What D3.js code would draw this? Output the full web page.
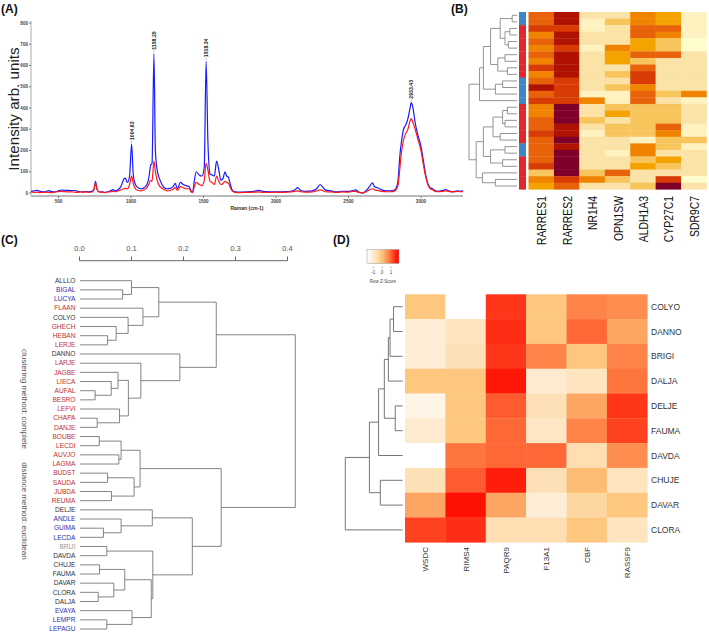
<!DOCTYPE html>
<html><head><meta charset="utf-8">
<script src="https://cdn.jsdelivr.net/npm/d3@7"></script>
<style>body{margin:0;background:#fff}svg{display:block;font-family:"Liberation Sans",Arial,sans-serif}</style>
</head><body><svg id="c" width="709" height="634"></svg>
<script>
// ---------- Panel A data ----------
const ramanShift = [310,330,350,370,390,410,430,450,470,490,510,530,550,570,590,610,630,650,670,690,710,730,745,755,765,780,800,820,840,860,875,890,910,930,950,960,975,990,1004,1015,1030,1050,1070,1090,1110,1125,1135,1145,1158,1168,1180,1195,1210,1230,1250,1270,1290,1305,1320,1340,1360,1380,1400,1415,1425,1435,1450,1470,1490,1505,1518,1530,1545,1560,1575,1590,1605,1620,1635,1648,1660,1672,1685,1700,1720,1750,1800,1850,1880,1910,1950,2000,2050,2100,2130,2150,2170,2200,2250,2280,2305,2320,2340,2380,2420,2460,2500,2530,2550,2570,2600,2620,2645,2665,2680,2700,2730,2760,2790,2820,2840,2855,2865,2880,2895,2910,2925,2933,2945,2960,2980,3000,3015,3030,3050,3065,3080,3100,3120,3150,3170,3190,3220,3250,3270,3290];
const blueIntensity = [8,10,12,9,5,6,11,7,5,8,13,14,12,12,11,13,8,6,5,7,6,8,20,55,20,6,5,3,6,10,16,10,15,30,65,70,50,80,230,90,40,25,20,25,40,80,130,140,655,200,110,70,45,25,20,22,30,45,20,50,40,35,30,10,5,50,100,85,80,120,620,250,90,85,80,150,110,60,70,100,80,75,40,12,5,4,5,8,12,8,6,5,6,8,15,25,12,8,10,20,40,30,15,10,5,8,8,12,15,5,0,10,30,48,30,25,15,10,10,15,50,180,240,300,320,350,400,425,400,330,270,220,160,95,40,25,20,10,8,12,16,10,6,10,8,10];
const redIntensity = [5,3,4,2,3,4,3,2,4,6,8,7,6,5,6,4,3,5,4,5,3,5,18,48,18,4,4,2,5,6,8,6,10,15,20,22,20,40,80,45,20,12,10,15,25,45,60,55,150,100,60,35,25,15,10,12,18,25,12,30,25,20,20,5,2,25,50,40,35,60,140,110,55,50,40,80,55,40,45,55,50,45,25,8,3,2,3,4,5,3,3,4,3,5,8,10,6,4,5,10,15,12,6,5,3,5,4,8,8,3,2,5,15,20,15,12,8,6,6,10,30,120,190,250,280,300,340,350,330,300,250,200,140,85,35,20,15,8,6,8,10,8,5,8,6,7];
const peakLabels = ["1004.63","1158.25","1518.34","2933.43"];
const peakShift = [1004,1158,1518,2933];
const peakHeight = [230,655,620,425];
const yTicksA = [0,100,200,300,400,500,600,700,800];
const xTicksA = [500,1000,1500,2000,2500,3000];

// ---------- Panel B data ----------
const genesB = ["RARRES1","RARRES2","NR1H4","OPN1SW","ALDH1A3","CYP27C1","SDR9C7"];
const levelsRARRES1 = [6,6,7,5,6,5,6,5,7,5,6,8,6,7,5,5,6,6,7,6,6,6,6,7,3,5,4];
const levelsRARRES2 = [8,8,7,8,8,7,8,8,8,8,7,7,7,7,9,9,9,8,8,9,8,9,9,9,9,7,6];
const levelsNR1H4   = [2,1,1,2,2,1,2,2,2,2,2,2,1,5,2,2,3,2,1,2,2,2,2,2,3,5,2];
const levelsOPN1SW  = [2,3,2,2,2,5,4,4,2,3,2,3,1,1,3,4,2,3,3,2,2,1,2,2,6,3,2];
const levelsALDH1A3 = [5,5,6,6,4,4,6,3,6,7,7,5,6,6,3,3,3,3,3,1,5,5,3,4,2,2,3];
const levelsCYP27C1 = [4,4,6,5,3,3,6,2,2,2,2,2,3,2,3,3,3,6,5,3,3,2,4,3,2,7,9];
const levelsSDR9C7  = [1,1,1,1,0,0,2,2,2,2,2,2,5,1,2,2,2,1,1,3,1,2,2,2,2,0,2];
const sampleGroupB = ["b","b","r","r","r","r","r","r","r","r","b","b","b","b","r","r","r","r","r","r","b","b","r","r","r","r","r"];
const heatPaletteB = ["#FFFDCC","#FEF2C0","#FBE2A6","#F8C55C","#F5A300","#F08300","#E8620A","#D83C04","#B01200","#7E0028"];
const treeB = [1.0,
  [0.78,[0.70,[0.55,[0.35,[0.1,0,1],[0.25,[0.15,2,3],[0.18,4,5]]],[0.4,[0.25,6,7],[0.2,8,9]]],[0.45,[0.3,10,11],12]],13],
  [0.85,[0.7,[0.5,[0.3,[0.2,14,15],[0.25,16,17]],[0.35,18,19]],[0.55,[0.25,20,21],[0.3,22,23]]],[0.72,24,[0.45,25,26]]]];

// ---------- Panel C data ----------
const samplesC = ["ALLLO","BIGAL","LUCYA","FLAAN","COLYO","GHECH","HEBAN","LERJE","DANNO","LARJE","JAGBE","LIECA","AUFAL","BESRO","LEFVI","CHAPA","DANJE","BOUBE","LECDI","AUVJO","LAGMA","BUDST","SAUDA","JUBDA","REUMA","DELJE","ANDLE","GUIMA","LECDA","BRIJI","DAVDA","CHUJE","FAUMA","DAVAR","CLORA","DALJA","EVAYA","LEMPR","LEPAGU"];
const groupC = ["k","b","b","r","k","r","r","r","k","r","r","r","r","r","r","r","r","r","r","r","r","r","r","r","r","k","b","b","b","g","k","k","k","k","k","k","b","b","b"];
const ticksC = [0.0,0.1,0.2,0.3,0.4];
const treeC = [0.415,
  [0.263,
    [0.1525,[0.10,0,[0.083,1,2]],[0.122,3,[0.0935,4,[0.0705,5,[0.054,6,7]]]]],
    [0.193,8,[0.118,9,[0.094,[0.074,10,[0.061,11,[0.030,12,13]]],[0.077,14,[0.034,15,16]]]]]],
  [0.2725,
    [0.1165,[0.080,[0.038,17,18],[0.0757,19,20]],[0.105,[0.054,21,22],[0.0615,23,24]]],
    [0.217,[0.140,25,[0.080,26,[0.046,27,28]]],
      [0.141,[0.0525,29,30],[0.138,[0.087,[0.0385,31,32],[0.066,33,[0.036,34,35]]],[0.101,36,[0.0525,37,38]]]]]]];

// ---------- Panel D data ----------
const samplesD = ["COLYO","DANNO","BRIGI","DALJA","DELJE","FAUMA","DAVDA","CHUJE","DAVAR","CLORA"];
const genesD = ["WSDC","RIMS4","PAQR9","F13A1","CBF","RASSF9"];
const zWSDC   = [-0.05,-1.1,-1.1,-0.05,-1.3,-0.95,-1.7,-0.65,0.35,1.25];
const zRIMS4  = [-1.7,-0.75,-0.65,-0.05,-0.05,-0.05,0.85,1.05,1.65,1.42];
const zPAQR9  = [1.35,1.42,1.35,1.6,1.05,0.95,0.95,1.55,0.35,-0.6];
const zF13A1  = [-0.05,-0.05,0.7,-0.95,-0.65,-0.8,0.95,-0.65,-1.1,-0.6];
const zCBF    = [0.7,0.95,-0.05,-0.75,0.35,0.7,-0.6,0.1,-0.4,-0.05];
const zRASSF9 = [0.6,0.35,0.7,0.85,1.35,1.25,0.6,-0.75,-0.05,-0.75];
const keyTicksD = [-1,0,1];
const treeD = [1.0,[0.58,[0.42,[0.32,[0.25,[0.22,[0.16,0,1],2],3],[0.13,4,5]],6],[0.39,7,8]],9];

// ---------- drawing ----------
const svg = d3.select("#c");

function drawTree(g, node, leafY, hX, stroke, sw){
  function rec(n){
    if (typeof n === "number") return {x:hX(0), y:leafY(n)};
    const a = rec(n[1]), b = rec(n[2]);
    const x = hX(n[0]);
    g.append("path").attr("d", `M${a.x},${a.y}H${x}V${b.y}H${b.x}`)
      .attr("fill","none").attr("stroke",stroke).attr("stroke-width",sw);
    return {x, y:(a.y+b.y)/2};
  }
  return rec(node);
}

// Panel labels
[["(A)",1,13],["(B)",451,13],["(C)",1,244],["(D)",333,244]].forEach(d=>{
  svg.append("text").attr("x",d[1]).attr("y",d[2]).text(d[0])
    .attr("font-size",12).attr("font-weight","bold").attr("fill","#111");
});

// ===== Panel A =====
{
  const g = svg.append("g");
  const x = d3.scaleLinear().domain([310,3290]).range([31,463]);
  const y = d3.scaleLinear().domain([-14,800]).range([196,23]);
  g.append("line").attr("x1",31).attr("x2",463).attr("y1",196).attr("y2",196).attr("stroke","#777").attr("stroke-width",1);
  g.append("line").attr("x1",31).attr("x2",31).attr("y1",21).attr("y2",196).attr("stroke","#aaa").attr("stroke-width",1);
  yTicksA.forEach(t=>{
    g.append("line").attr("x1",29).attr("x2",31).attr("y1",y(t)).attr("y2",y(t)).attr("stroke","#777");
    g.append("text").attr("x",28).attr("y",y(t)+1.6).attr("text-anchor","end").text(t)
      .attr("font-size",4.6).attr("font-weight","bold").attr("fill","#444");
  });
  xTicksA.forEach(t=>{
    g.append("line").attr("x1",x(t)).attr("x2",x(t)).attr("y1",196).attr("y2",198).attr("stroke","#777");
    g.append("text").attr("x",x(t)).attr("y",203).attr("text-anchor","middle").text(t)
      .attr("font-size",4.6).attr("font-weight","bold").attr("fill","#444");
  });
  g.append("text").attr("x",247).attr("y",210).attr("text-anchor","middle").text("Raman (cm-1)")
    .attr("font-size",5).attr("font-weight","bold").attr("fill","#333");
  g.append("text").attr("transform","translate(19,109) rotate(-90)").attr("text-anchor","middle")
    .text("Intensity arb. units").attr("font-size",15.2).attr("fill","#222");
  const line = d3.line().x((d,i)=>x(ramanShift[i])).y(d=>y(d)).curve(d3.curveMonotoneX);
  g.append("path").attr("d",line(blueIntensity)).attr("fill","none").attr("stroke","#1a1aff").attr("stroke-width",1.2);
  g.append("path").attr("d",line(redIntensity)).attr("fill","none").attr("stroke","#ff1a1a").attr("stroke-width",1.2);
  peakLabels.forEach((lab,i)=>{
    const px = x(peakShift[i]), py = y(peakHeight[i]);
    g.append("line").attr("x1",px).attr("x2",px).attr("y1",py-1).attr("y2",py-4).attr("stroke","#999").attr("stroke-width",0.6);
    g.append("text").attr("transform",`translate(${px+2},${py-4}) rotate(-90)`).text(lab)
      .attr("font-size",5.2).attr("font-weight","bold").attr("fill","#222");
  });
}

// ===== Panel B =====
{
  const g = svg.append("g");
  const cols = [levelsRARRES1,levelsRARRES2,levelsNR1H4,levelsOPN1SW,levelsALDH1A3,levelsCYP27C1,levelsSDR9C7];
  const nR = levelsRARRES1.length;
  const xb = d3.scaleBand().domain(genesB).range([528.5,706.5]);
  const yb = d3.scaleBand().domain(d3.range(nR)).range([12,189.3]);
  const col = d3.scaleOrdinal().domain(d3.range(10)).range(heatPaletteB);
  genesB.forEach((gn,j)=>{
    cols[j].forEach((v,i)=>{
      g.append("rect").attr("x",xb(gn)).attr("y",yb(i)).attr("width",xb.bandwidth()+0.3).attr("height",yb.bandwidth()+0.3).attr("fill",col(v));
    });
    g.append("text").attr("transform",`translate(${xb(gn)+xb.bandwidth()/2+5},196) rotate(-90) scale(0.8,1)`)
      .attr("text-anchor","end").text(gn).attr("font-size",13).attr("fill","#111");
  });
  sampleGroupB.forEach((s,i)=>{
    g.append("rect").attr("x",519).attr("y",yb(i)).attr("width",7).attr("height",yb.bandwidth()+0.3)
      .attr("fill", s==="b" ? "#3b86c4" : "#e3262a");
  });
  const hX = d3.scaleLinear().domain([0,1]).range([517,469]);
  drawTree(g, treeB, i=>yb(i)+yb.bandwidth()/2, hX, "#888", 0.9);
}

// ===== Panel C =====
{
  const g = svg.append("g");
  const hX = d3.scaleLinear().domain([0,0.4]).range([79.5,287.5]);
  const yC = d3.scalePoint().domain(d3.range(samplesC.length)).range([280.7,629]);
  g.append("line").attr("x1",hX(0)).attr("x2",hX(0.4)).attr("y1",260.7).attr("y2",260.7).attr("stroke","#666");
  ticksC.forEach(t=>{
    g.append("line").attr("x1",hX(t)).attr("x2",hX(t)).attr("y1",256.5).attr("y2",260.7).attr("stroke","#666");
    g.append("text").attr("x",hX(t)).attr("y",250.5).attr("text-anchor","middle").text(t.toFixed(1))
      .attr("font-size",7.5).attr("fill","#555");
  });
  const colC = {k:"#333333", b:"#3030a8", r:"#c0302f", g:"#9a9a9a"};
  samplesC.forEach((s,i)=>{
    g.append("text").attr("x",75.5).attr("y",yC(i)+2.3).attr("text-anchor","end").text(s)
      .attr("font-size",6.6).attr("fill",colC[groupC[i]]);
  });
  drawTree(g, treeC, i=>yC(i), t=>t===0?80:hX(t), "#666", 0.8);
  g.append("text").attr("transform","translate(22,399) rotate(90)").attr("text-anchor","middle")
    .text("clustering method: complete").attr("font-size",8).attr("fill","#555");
  g.append("text").attr("transform","translate(22,511) rotate(90)").attr("text-anchor","middle")
    .text("distance method: euclidean").attr("font-size",8).attr("fill","#555");
}

// ===== Panel D =====
{
  const g = svg.append("g");
  const cols = [zWSDC,zRIMS4,zPAQR9,zF13A1,zCBF,zRASSF9];
  const xd = d3.scaleBand().domain(genesD).range([405,647.3]);
  const yd = d3.scaleBand().domain(samplesD).range([294.3,542.3]);
  const cz = d3.scaleLinear().domain([-1.7,-0.8,0,0.8,1.7]).range(["#ffffff","#fee6c4","#fdc57a","#fe7b42","#ff0a00"]).clamp(true);
  genesD.forEach((gn,j)=>{
    cols[j].forEach((v,i)=>{
      g.append("rect").attr("x",xd(gn)).attr("y",yd(samplesD[i])).attr("width",xd.bandwidth()+0.3).attr("height",yd.bandwidth()+0.3).attr("fill",cz(v));
    });
    g.append("text").attr("transform",`translate(${xd(gn)+xd.bandwidth()/2+3},547) rotate(-90)`)
      .attr("text-anchor","end").text(gn).attr("font-size",8).attr("fill","#333");
  });
  samplesD.forEach(s=>{
    g.append("text").attr("x",651).attr("y",yd(s)+yd.bandwidth()/2+3).text(s).attr("font-size",8.5).attr("fill","#333");
  });
  const hX = d3.scaleLinear().domain([0,1]).range([402.7,345.3]);
  drawTree(g, treeD, i=>yd(samplesD[i])+yd.bandwidth()/2, hX, "#666", 0.9);
  const kx = d3.scaleLinear().domain([-1.7,1.9]).range([367,399]);
  const defs = svg.append("defs");
  const grad = defs.append("linearGradient").attr("id","kg");
  d3.range(0,1.001,0.1).forEach(t=>{
    const v = -1.7 + t*3.6;
    grad.append("stop").attr("offset",t).attr("stop-color",cz(v));
  });
  g.append("rect").attr("x",367).attr("y",249.5).attr("width",32).attr("height",14).attr("fill","url(#kg)").attr("stroke","#999").attr("stroke-width",0.5);
  keyTicksD.forEach(t=>{
    g.append("line").attr("x1",kx(t)).attr("x2",kx(t)).attr("y1",266.5).attr("y2",268.5).attr("stroke","#666").attr("stroke-width",0.5);
    g.append("text").attr("x",kx(t)).attr("y",273.5).attr("text-anchor","middle").text(t).attr("font-size",4.5).attr("fill","#444");
  });
  g.append("text").attr("x",383).attr("y",283).attr("text-anchor","middle").text("Row Z-Score").attr("font-size",4.5).attr("fill","#444");
}
</script></body></html>
